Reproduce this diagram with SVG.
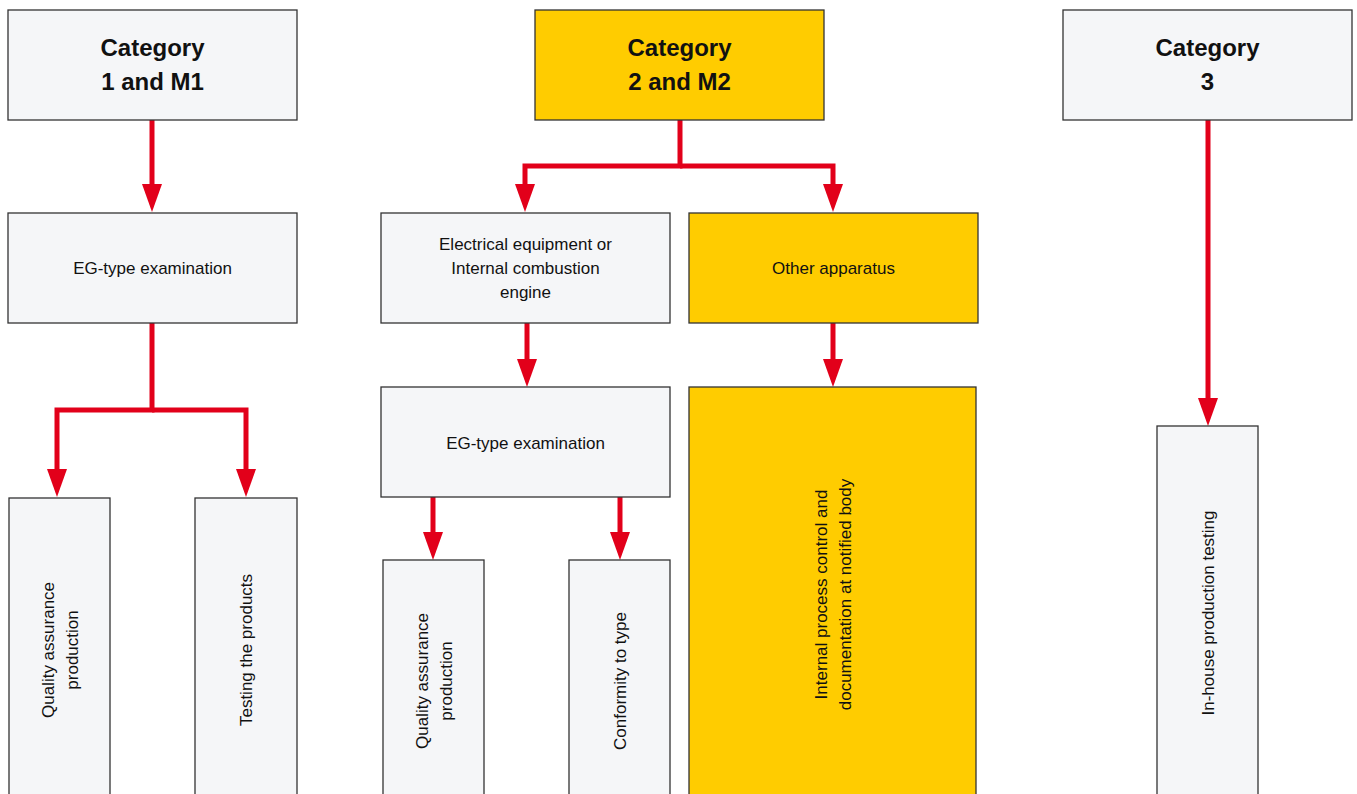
<svg xmlns="http://www.w3.org/2000/svg" width="1357" height="794" viewBox="0 0 1357 794">
<style>
.g{fill:#f5f6f8;stroke:#333;stroke-width:1.3}
.y{fill:#ffcc00;stroke:#333;stroke-width:1.3}
.h{font-family:"Liberation Sans",Arial,sans-serif;font-weight:bold;font-size:24px;fill:#111;text-anchor:middle}
.t{font-family:"Liberation Sans",Arial,sans-serif;font-size:17px;fill:#111;text-anchor:middle}
.c{fill:none;stroke:#e2001a;stroke-width:5;stroke-linejoin:miter;marker-end:url(#ah)}
</style>
<defs>
<marker id="ah" markerUnits="userSpaceOnUse" markerWidth="28" markerHeight="20" refX="8" refY="10" orient="auto" viewBox="0 0 28 20">
<path d="M0,0 L28,10 L0,20 z" fill="#e2001a"/>
</marker>
</defs>
<rect width="1357" height="794" fill="#fff"/>
<g id="connectors">
<path class="c" d="M152,120 V192"/>
<path class="c" d="M152,323 V410 H57 V477"/>
<path class="c" d="M152,410 H246 V477"/>
<path class="c" d="M680,120 V166 H525 V192"/>
<path class="c" d="M680,166 H833 V192"/>
<path class="c" d="M527,323 V367"/>
<path class="c" d="M833,323 V367"/>
<path class="c" d="M433,497 V540"/>
<path class="c" d="M620,497 V540"/>
<path class="c" d="M1208,120 V406"/>
</g>
<g id="cat1"><rect class="g" x="8" y="10" width="289" height="110"/><text class="h" x="152.5" y="56">Category</text><text class="h" x="152.5" y="90">1 and M1</text></g>
<g id="cat2"><rect class="y" x="535" y="10" width="289" height="110"/><text class="h" x="679.5" y="56">Category</text><text class="h" x="679.5" y="90">2 and M2</text></g>
<g id="cat3"><rect class="g" x="1063" y="10" width="289" height="110"/><text class="h" x="1207.5" y="56">Category</text><text class="h" x="1207.5" y="90">3</text></g>
<g id="eg1"><rect class="g" x="8" y="213" width="289" height="110"/><text class="t" x="152.5" y="274">EG-type examination</text></g>
<g id="elec"><rect class="g" x="381" y="213" width="289" height="110"/><text class="t" x="525.5" y="250">Electrical equipment or</text><text class="t" x="525.5" y="274">Internal combustion</text><text class="t" x="525.5" y="298">engine</text></g>
<g id="other"><rect class="y" x="689" y="213" width="289" height="110"/><text class="t" x="833.5" y="274">Other apparatus</text></g>
<g id="eg2"><rect class="g" x="381" y="387" width="289" height="110"/><text class="t" x="525.5" y="449">EG-type examination</text></g>
<g id="internal"><rect class="y" x="689" y="387" width="287" height="415"/><g transform="translate(832.5,594.5) rotate(-90)"><text class="t" x="0" y="-6">Internal process control and</text><text class="t" x="0" y="18">documentation at notified body</text></g></g>
<g id="qa1"><rect class="g" x="9" y="498" width="101" height="304"/><g transform="translate(59.5,650) rotate(-90)"><text class="t" x="0" y="-6">Quality assurance</text><text class="t" x="0" y="18">production</text></g></g>
<g id="test"><rect class="g" x="195" y="498" width="102" height="304"/><g transform="translate(246,650) rotate(-90)"><text class="t" x="0" y="6">Testing the products</text></g></g>
<g id="qa2"><rect class="g" x="383" y="560" width="101" height="242"/><g transform="translate(433.5,681) rotate(-90)"><text class="t" x="0" y="-6">Quality assurance</text><text class="t" x="0" y="18">production</text></g></g>
<g id="conf"><rect class="g" x="569" y="560" width="101" height="242"/><g transform="translate(619.5,681) rotate(-90)"><text class="t" x="0" y="6">Conformity to type</text></g></g>
<g id="inhouse"><rect class="g" x="1157" y="426" width="101" height="376"/><g transform="translate(1207.5,613) rotate(-90)"><text class="t" x="0" y="6">In-house production testing</text></g></g>
</svg>
